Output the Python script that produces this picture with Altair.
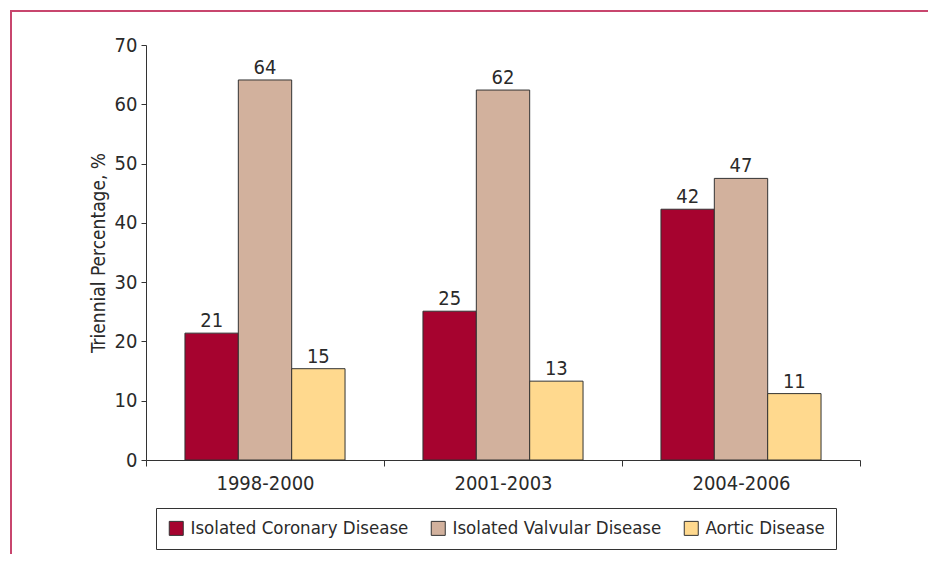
import altair as alt
import pandas as pd

periods = ["1998-2000", "2001-2003", "2004-2006"]
series = ["Isolated Coronary Disease", "Isolated Valvular Disease", "Aortic Disease"]
coronary = [21.4, 25.1, 42.3]
valvular = [64.1, 62.4, 47.5]
aortic = [15.4, 13.3, 11.2]
coronary_labels = ["21", "25", "42"]
valvular_labels = ["64", "62", "47"]
aortic_labels = ["15", "13", "11"]
colors = ["#A6032F", "#D2B19D", "#FFD98E"]
y_ticks = [0, 10, 20, 30, 40, 50, 60, 70]

rows = []
for name, vals, labs in zip(series, [coronary, valvular, aortic],
                            [coronary_labels, valvular_labels, aortic_labels]):
    for p, v, l in zip(periods, vals, labs):
        rows.append({"period": p, "series": name, "value": v, "label": l})
df = pd.DataFrame(rows)

FONT = "DejaVu Sans Condensed, Liberation Sans Narrow, sans-serif"
TXT = "#2a2a2a"
FS = 20

x_enc = alt.X("period:N", sort=periods,
              scale=alt.Scale(paddingInner=0, paddingOuter=0),
              axis=alt.Axis(title=None, tickBand="extent", labelAngle=0,
                            labelFontSize=FS, labelColor=TXT, labelPadding=7,
                            tickSize=6, tickColor="#333", domainColor="#333",
                            labelFont=FONT))
xo_enc = alt.XOffset("series:N", sort=series,
                     scale=alt.Scale(paddingInner=0, paddingOuter=0.73))
y_enc = alt.Y("value:Q",
              scale=alt.Scale(domain=[0, 70], nice=False),
              axis=alt.Axis(title="Triennial Percentage, %", values=y_ticks,
                            grid=False, tickSize=5, labelPadding=4,
                            labelFontSize=FS, labelColor=TXT, labelFont=FONT,
                            titleFontSize=19, titleFontWeight="normal",
                            titleColor=TXT, titleFont=FONT, titlePadding=6,
                            tickColor="#333", domainColor="#333"))

bars = alt.Chart(df).mark_bar(stroke="#333333", strokeWidth=1).encode(
    x=x_enc,
    xOffset=xo_enc,
    y=y_enc,
    color=alt.Color("series:N", sort=series,
                    scale=alt.Scale(domain=series, range=colors),
                    legend=alt.Legend(title=None, orient="none", legendX=10,
                                      legendY=463, direction="horizontal",
                                      strokeColor="#333", padding=11,
                                      symbolType="square", symbolSize=196,
                                      symbolStrokeColor="#333",
                                      symbolStrokeWidth=1, symbolOpacity=1,
                                      labelFontSize=18.5, labelColor=TXT,
                                      labelFont=FONT, labelOffset=5,
                                      labelLimit=500, columnPadding=20)),
)

texts = alt.Chart(df).mark_text(baseline="alphabetic", dy=-6, fontSize=FS,
                                color=TXT, font=FONT).encode(
    x=alt.X("period:N", sort=periods),
    xOffset=alt.XOffset("series:N", sort=series),
    y="value:Q",
    text="label:N",
)

frame_df = pd.DataFrame([{"k": 1}])
frame_top = alt.Chart(frame_df).mark_rule(color="#C8466E", strokeWidth=2).encode(
    x=alt.value(-135), x2=alt.value(900), y=alt.value(-34))
frame_left = alt.Chart(frame_df).mark_rule(color="#C8466E", strokeWidth=2).encode(
    x=alt.value(-135), y=alt.value(-35), y2=alt.value(600))

chart = alt.layer(frame_top, frame_left, bars, texts).properties(
    width=714, height=415,
    autosize=alt.AutoSizeParams(type="none"),
    padding={"left": 138, "top": 37, "right": 68, "bottom": 94},
).configure(font=FONT).configure_view(strokeWidth=0, stroke="transparent")

chart.save("out.html", embed_options={"renderer": "svg", "actions": False})
